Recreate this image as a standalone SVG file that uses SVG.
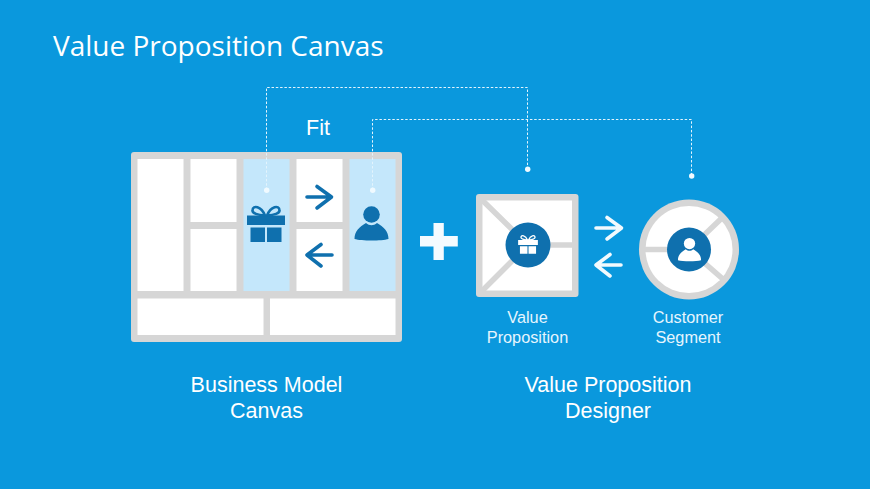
<svg xmlns="http://www.w3.org/2000/svg" width="870" height="489" viewBox="0 0 870 489">
<defs>
<style>
.t{font-family:"Liberation Sans",Arial,sans-serif;fill:#fff;text-anchor:middle}
.l{font-size:21.5px}
.s{font-size:16.300px;fill:#e6f5fd}
.cell{fill:#fff}
.hi{fill:#c4e7fb}
.frame{fill:#d6d6d6}
.sp{stroke:#d6d6d6;stroke-width:5.500;fill:none}
.dash{fill:none;stroke:#e3f4fd;stroke-width:1;stroke-dasharray:2.500 1.800}
.dot{fill:#f0faff}
.ab{fill:none;stroke:#0f70ae;stroke-width:3.600;stroke-linecap:round;stroke-linejoin:round}
.aw{fill:none;stroke:#f2fafe;stroke-width:3.600;stroke-linecap:round;stroke-linejoin:round}
</style>
<g id="gift">
<path d="M-19-9.500H19V0H-19ZM-15.500 2.500H-1V17H-15.500ZM1 2.500H15.500V17H1Z"/>
<path d="M-1-9.500C-5-19-13-20-13.500-15C-14-11.500-8-10-1-9.500ZM1-9.500C5-19 13-20 13.500-15C14-11.500 8-10 1-9.500Z" fill="none" stroke="currentColor" stroke-width="2.600"/>
</g>
<g id="person">
<circle cx="0" cy="-9.500" r="8.300"/>
<path d="M-17 15C-17 7-12 3-5.500 -1C-2 2 2 2 5.500 -1C12 3 17 7 17 15C10 17-10 17-17 15Z"/>
</g>
</defs>
<rect width="870" height="489" fill="#0a98dd"/>
<text id="title" x="53" y="56" style="font-family:'Open Sans','Liberation Sans',sans-serif;font-size:28px;fill:#fff">Value Proposition Canvas</text>
<text id="fit" class="t l" x="318" y="135">Fit</text>
<g id="business-model-canvas">
<rect class="frame" x="131" y="152" width="271" height="190" rx="3"/>
<rect class="cell" x="137.500" y="159" width="46" height="132"/>
<rect class="cell" x="190.500" y="159" width="46" height="63"/>
<rect class="cell" x="190.500" y="229" width="46" height="62"/>
<rect class="hi" x="243.500" y="159" width="46" height="132"/>
<rect class="cell" x="296.500" y="159" width="46" height="63"/>
<rect class="cell" x="296.500" y="229" width="46" height="62"/>
<rect class="hi" x="349.500" y="159" width="46" height="132"/>
<rect class="cell" x="137.500" y="298.500" width="126" height="36.500"/>
<rect class="cell" x="270" y="298.500" width="125.500" height="36.500"/>
<use href="#gift" x="266" y="225" fill="#0f70ae" color="#0f70ae"/>
<use href="#person" x="371.500" y="224" fill="#0f70ae"/>
<path class="ab" d="M307 197H331M317 186.500L331.500 197L317 208"/>
<path class="ab" d="M332 255H308M321 244.500L307 255L321 266"/>
</g>
<path id="plus" fill="#f4fbff" d="M433.500 223H443.800V236H457.800V246.500H443.800V260H433.500V246.500H420V236H433.500Z"/>
<g id="value-proposition">
<rect class="frame" x="476" y="194" width="102.500" height="103" rx="3"/>
<rect class="cell" x="482.500" y="200.500" width="89.500" height="90"/>
<path class="sp" d="M480 198L528 245L480 293M528 245H574"/>
<circle cx="528" cy="245" r="22.500" fill="#0f70ae"/>
<use href="#gift" x="0" y="0" transform="translate(528 245) scale(.52)" fill="#fff" color="#fff"/>
</g>
<g id="fit-arrows">
<path class="aw" d="M596 228H620M607 217.500L621.500 228L607 239"/>
<path class="aw" d="M621 265H598M610 254.500L596 265L610 276"/>
</g>
<g id="customer-segment">
<circle class="frame" cx="689" cy="249.500" r="50"/>
<circle class="cell" cx="689" cy="249.500" r="43.500"/>
<path class="sp" d="M644 249.500H689L724 216M689 249.500L724 280"/>
<circle cx="689" cy="249.500" r="22" fill="#0f70ae"/>
<use href="#person" x="0" y="0" transform="translate(689.500 250) scale(.68)" fill="#fff"/>
</g>
<g id="connectors">
<path class="dash" d="M266.500 190V87.500H527.500V169"/>
<path class="dash" d="M372.500 190V119.500H691.500V176"/>
<circle class="dot" cx="266.700" cy="190.300" r="2.700"/>
<circle class="dot" cx="372.700" cy="190.300" r="2.700"/>
<circle class="dot" cx="527.700" cy="169.300" r="2.700"/>
<circle class="dot" cx="691.700" cy="176" r="2.700"/>
</g>
<g id="labels">
<text class="t s" x="527.500" y="323">Value</text>
<text class="t s" x="527.500" y="343">Proposition</text>
<text class="t s" x="688" y="323">Customer</text>
<text class="t s" x="688" y="343">Segment</text>
<text class="t l" x="266.500" y="392">Business Model</text>
<text class="t l" x="266.500" y="418">Canvas</text>
<text class="t l" x="608" y="392">Value Proposition</text>
<text class="t l" x="608" y="418">Designer</text>
</g>
</svg>
